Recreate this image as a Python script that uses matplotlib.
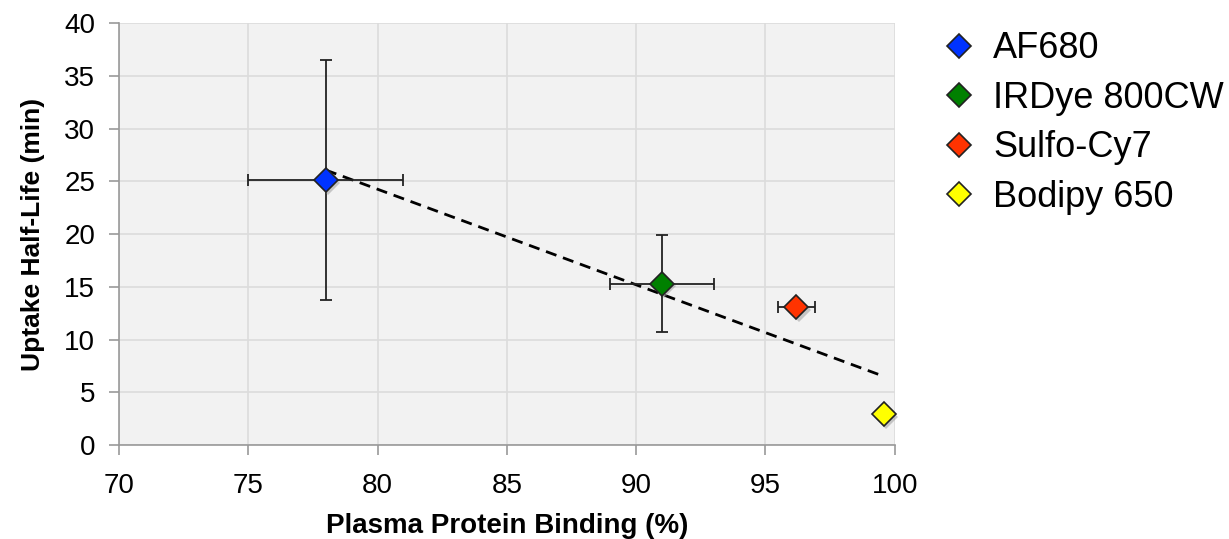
import numpy as np
import matplotlib
matplotlib.use("Agg")
import matplotlib.pyplot as plt
from matplotlib import transforms

plt.rcParams['font.family'] = ['Liberation Sans', 'DejaVu Sans']

# data
dyes = ["AF680", "IRDye 800CW", "Sulfo-Cy7", "Bodipy 650"]
colors = ["#0033ff", "#008000", "#ff3300", "#ffff00"]
binding = [78.0, 91.0, 96.2, 99.6]
binding_err = [3.0, 2.0, 0.7, 0.0]
halflife = [25.1, 15.3, 13.1, 2.9]
halflife_err = [11.4, 4.6, 0.0, 0.0]

fig = plt.figure(figsize=(12.29, 5.39), dpi=100)
ax = fig.add_axes([0.0968, 0.1744, 0.6312, 0.7828])
ax.set_facecolor("#f2f2f2")
ax.set_xlim(70, 100)
ax.set_ylim(0, 40)
ax.set_xticks(np.arange(70, 101, 5))
ax.set_yticks(np.arange(0, 41, 5))
ax.grid(True, color="#dcdcdc", linewidth=1.2)
ax.set_axisbelow(True)
for s in ["top", "right"]:
    ax.spines[s].set_visible(False)
for s in ["left", "bottom"]:
    ax.spines[s].set_color("#999999")
    ax.spines[s].set_linewidth(1.2)
ax.tick_params(direction="out", length=7, width=1.2, color="#999999", labelsize=20)
ax.tick_params(axis="x", pad=13)
ax.tick_params(axis="y", pad=10)

# linear trend line through the four dyes
k, b = np.polyfit(binding, halflife, 1)
xt = np.array([binding[0], binding[-1]])
ax.plot(xt, k * xt + b, color="black", linestyle=(0, (4, 2.5)), linewidth=2, zorder=2)

shadow = transforms.offset_copy(ax.transData, fig=fig, x=1.5, y=-2, units="points")
for i in range(len(dyes)):
    xe = binding_err[i] if binding_err[i] > 0 else None
    ye = halflife_err[i] if halflife_err[i] > 0 else None
    if xe is not None or ye is not None:
        ax.errorbar(binding[i], halflife[i], xerr=xe, yerr=ye, fmt="none",
                    ecolor="#222222", elinewidth=1.3, capsize=4.5, capthick=1.3, zorder=3)
    ax.plot(binding[i], halflife[i], marker="D", markersize=12, color="#999999",
            alpha=0.5, markeredgewidth=0, linestyle="none", transform=shadow, zorder=4,
            clip_on=False)
    ax.plot(binding[i], halflife[i], marker="D", markersize=12, markerfacecolor=colors[i],
            markeredgecolor="#222222", markeredgewidth=1.2, linestyle="none",
            label=dyes[i], zorder=5, clip_on=False)

ax.set_xlabel("Plasma Protein Binding (%)", fontsize=20, fontweight="bold", labelpad=10)
ax.set_ylabel("Uptake Half-Life (min)", fontsize=19, fontweight="bold", labelpad=14)

handles = [plt.Line2D([], [], marker="D", markersize=12, markerfacecolor=c,
                      markeredgecolor="#222222", markeredgewidth=1.2, linestyle="none")
           for c in colors]
fig.legend(handles, dyes, loc="upper left", bbox_to_anchor=(0.736, 1.002),
           frameon=False, fontsize=26, handletextpad=0.35, labelspacing=0.4,
           handlelength=1.2)

fig.savefig("out.png", dpi=100)
